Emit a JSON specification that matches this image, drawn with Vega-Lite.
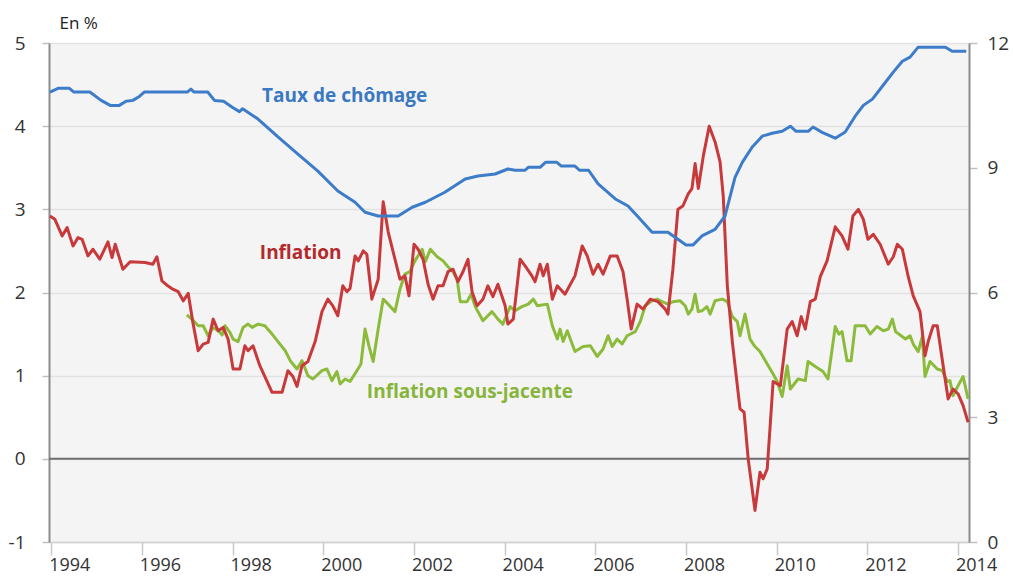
{
  "$schema": "https://vega.github.io/schema/vega-lite/v6.json",
  "width": 920,
  "height": 499,
  "autosize": {"type": "none"},
  "padding": {"left": 49, "top": 43, "right": 44, "bottom": 36},
  "background": "#ffffff",
  "config": {
    "view": {"fill": "#f4f4f4", "stroke": null},
    "font": "Open Sans",
    "axis": {"labelFont": "Open Sans", "labelFontSize": 19, "labelColor": "#333333", "titleFont": "Open Sans", "labelOverlap": false, "labelFlush": false}
  },
  "datasets": {
    "chomage": [
      {"annee": 1993.97, "taux": 10.82}, {"annee": 1994.15, "taux": 10.91}, {"annee": 1994.40, "taux": 10.91},
      {"annee": 1994.50, "taux": 10.82}, {"annee": 1994.85, "taux": 10.82}, {"annee": 1995.10, "taux": 10.62},
      {"annee": 1995.30, "taux": 10.50}, {"annee": 1995.50, "taux": 10.50}, {"annee": 1995.65, "taux": 10.60},
      {"annee": 1995.80, "taux": 10.62}, {"annee": 1995.95, "taux": 10.72}, {"annee": 1996.05, "taux": 10.82},
      {"annee": 1996.50, "taux": 10.82}, {"annee": 1997.00, "taux": 10.82}, {"annee": 1997.08, "taux": 10.89},
      {"annee": 1997.15, "taux": 10.82}, {"annee": 1997.45, "taux": 10.82}, {"annee": 1997.60, "taux": 10.62},
      {"annee": 1997.80, "taux": 10.60}, {"annee": 1998.00, "taux": 10.45}, {"annee": 1998.15, "taux": 10.35},
      {"annee": 1998.22, "taux": 10.42}, {"annee": 1998.56, "taux": 10.17}, {"annee": 1999.00, "taux": 9.74},
      {"annee": 1999.44, "taux": 9.33}, {"annee": 1999.88, "taux": 8.92}, {"annee": 2000.32, "taux": 8.44},
      {"annee": 2000.70, "taux": 8.17}, {"annee": 2000.92, "taux": 7.93}, {"annee": 2001.21, "taux": 7.84},
      {"annee": 2001.65, "taux": 7.84}, {"annee": 2001.96, "taux": 8.05}, {"annee": 2002.25, "taux": 8.17},
      {"annee": 2002.68, "taux": 8.41}, {"annee": 2003.13, "taux": 8.73}, {"annee": 2003.41, "taux": 8.80},
      {"annee": 2003.79, "taux": 8.85}, {"annee": 2004.07, "taux": 8.97}, {"annee": 2004.23, "taux": 8.94},
      {"annee": 2004.45, "taux": 8.94}, {"annee": 2004.52, "taux": 9.01}, {"annee": 2004.78, "taux": 9.01},
      {"annee": 2004.90, "taux": 9.13}, {"annee": 2005.15, "taux": 9.13}, {"annee": 2005.25, "taux": 9.04},
      {"annee": 2005.55, "taux": 9.04}, {"annee": 2005.65, "taux": 8.94}, {"annee": 2005.85, "taux": 8.94},
      {"annee": 2006.06, "taux": 8.61}, {"annee": 2006.44, "taux": 8.25}, {"annee": 2006.72, "taux": 8.08},
      {"annee": 2006.94, "taux": 7.82}, {"annee": 2007.25, "taux": 7.45}, {"annee": 2007.60, "taux": 7.45},
      {"annee": 2007.82, "taux": 7.28}, {"annee": 2008.00, "taux": 7.14}, {"annee": 2008.15, "taux": 7.14},
      {"annee": 2008.35, "taux": 7.36}, {"annee": 2008.64, "taux": 7.52}, {"annee": 2008.86, "taux": 7.84},
      {"annee": 2009.08, "taux": 8.77}, {"annee": 2009.24, "taux": 9.13}, {"annee": 2009.46, "taux": 9.50},
      {"annee": 2009.68, "taux": 9.76}, {"annee": 2009.90, "taux": 9.83}, {"annee": 2010.12, "taux": 9.88},
      {"annee": 2010.30, "taux": 10.00}, {"annee": 2010.42, "taux": 9.88}, {"annee": 2010.70, "taux": 9.88},
      {"annee": 2010.80, "taux": 9.98}, {"annee": 2011.00, "taux": 9.85}, {"annee": 2011.29, "taux": 9.71},
      {"annee": 2011.51, "taux": 9.86}, {"annee": 2011.73, "taux": 10.24}, {"annee": 2011.91, "taux": 10.50},
      {"annee": 2012.11, "taux": 10.65}, {"annee": 2012.33, "taux": 10.96}, {"annee": 2012.57, "taux": 11.30},
      {"annee": 2012.77, "taux": 11.56}, {"annee": 2012.94, "taux": 11.66}, {"annee": 2013.12, "taux": 11.90},
      {"annee": 2013.72, "taux": 11.90}, {"annee": 2013.87, "taux": 11.80}, {"annee": 2014.18, "taux": 11.80}
    ],
    "inflation": [
      {"annee": 1993.97, "valeur": 2.92}, {"annee": 1994.08, "valeur": 2.88}, {"annee": 1994.24, "valeur": 2.68},
      {"annee": 1994.35, "valeur": 2.78}, {"annee": 1994.48, "valeur": 2.56}, {"annee": 1994.59, "valeur": 2.66},
      {"annee": 1994.68, "valeur": 2.64}, {"annee": 1994.81, "valeur": 2.44}, {"annee": 1994.92, "valeur": 2.52},
      {"annee": 1995.07, "valeur": 2.40}, {"annee": 1995.25, "valeur": 2.61}, {"annee": 1995.34, "valeur": 2.42},
      {"annee": 1995.41, "valeur": 2.58}, {"annee": 1995.58, "valeur": 2.28}, {"annee": 1995.74, "valeur": 2.37},
      {"annee": 1996.07, "valeur": 2.36}, {"annee": 1996.24, "valeur": 2.34}, {"annee": 1996.33, "valeur": 2.43},
      {"annee": 1996.44, "valeur": 2.14}, {"annee": 1996.57, "valeur": 2.08}, {"annee": 1996.68, "valeur": 2.04},
      {"annee": 1996.80, "valeur": 2.01}, {"annee": 1996.91, "valeur": 1.90}, {"annee": 1997.02, "valeur": 1.99},
      {"annee": 1997.12, "valeur": 1.65}, {"annee": 1997.24, "valeur": 1.30}, {"annee": 1997.35, "valeur": 1.38},
      {"annee": 1997.46, "valeur": 1.40}, {"annee": 1997.57, "valeur": 1.68}, {"annee": 1997.68, "valeur": 1.54},
      {"annee": 1997.79, "valeur": 1.58}, {"annee": 1997.90, "valeur": 1.44}, {"annee": 1998.01, "valeur": 1.08},
      {"annee": 1998.16, "valeur": 1.08}, {"annee": 1998.27, "valeur": 1.36}, {"annee": 1998.34, "valeur": 1.30},
      {"annee": 1998.45, "valeur": 1.36}, {"annee": 1998.60, "valeur": 1.12}, {"annee": 1998.87, "valeur": 0.80},
      {"annee": 1999.09, "valeur": 0.80}, {"annee": 1999.22, "valeur": 1.06}, {"annee": 1999.33, "valeur": 0.99},
      {"annee": 1999.42, "valeur": 0.87}, {"annee": 1999.53, "valeur": 1.12}, {"annee": 1999.66, "valeur": 1.17},
      {"annee": 1999.82, "valeur": 1.41}, {"annee": 1999.97, "valeur": 1.77}, {"annee": 2000.10, "valeur": 1.92},
      {"annee": 2000.21, "valeur": 1.84}, {"annee": 2000.32, "valeur": 1.72}, {"annee": 2000.43, "valeur": 2.08},
      {"annee": 2000.52, "valeur": 2.01}, {"annee": 2000.59, "valeur": 2.05}, {"annee": 2000.70, "valeur": 2.44},
      {"annee": 2000.77, "valeur": 2.38}, {"annee": 2000.88, "valeur": 2.50}, {"annee": 2000.96, "valeur": 2.46},
      {"annee": 2001.07, "valeur": 1.92}, {"annee": 2001.21, "valeur": 2.16}, {"annee": 2001.32, "valeur": 3.09},
      {"annee": 2001.43, "valeur": 2.73}, {"annee": 2001.58, "valeur": 2.40}, {"annee": 2001.69, "valeur": 2.16},
      {"annee": 2001.80, "valeur": 2.20}, {"annee": 2001.89, "valeur": 1.96}, {"annee": 2002.00, "valeur": 2.58},
      {"annee": 2002.09, "valeur": 2.52}, {"annee": 2002.20, "valeur": 2.40}, {"annee": 2002.31, "valeur": 2.10},
      {"annee": 2002.42, "valeur": 1.92}, {"annee": 2002.53, "valeur": 2.08}, {"annee": 2002.64, "valeur": 2.08},
      {"annee": 2002.75, "valeur": 2.25}, {"annee": 2002.86, "valeur": 2.28}, {"annee": 2002.97, "valeur": 2.13},
      {"annee": 2003.08, "valeur": 2.25}, {"annee": 2003.19, "valeur": 2.40}, {"annee": 2003.28, "valeur": 2.01},
      {"annee": 2003.39, "valeur": 1.84}, {"annee": 2003.52, "valeur": 1.92}, {"annee": 2003.63, "valeur": 2.08},
      {"annee": 2003.74, "valeur": 1.95}, {"annee": 2003.85, "valeur": 2.10}, {"annee": 2004.01, "valeur": 1.84},
      {"annee": 2004.07, "valeur": 1.62}, {"annee": 2004.19, "valeur": 1.68}, {"annee": 2004.34, "valeur": 2.40},
      {"annee": 2004.45, "valeur": 2.32}, {"annee": 2004.60, "valeur": 2.20}, {"annee": 2004.67, "valeur": 2.13},
      {"annee": 2004.78, "valeur": 2.34}, {"annee": 2004.85, "valeur": 2.20}, {"annee": 2004.94, "valeur": 2.34},
      {"annee": 2005.05, "valeur": 1.92}, {"annee": 2005.16, "valeur": 2.08}, {"annee": 2005.33, "valeur": 1.98},
      {"annee": 2005.55, "valeur": 2.20}, {"annee": 2005.71, "valeur": 2.56}, {"annee": 2005.82, "valeur": 2.44},
      {"annee": 2005.95, "valeur": 2.22}, {"annee": 2006.06, "valeur": 2.34}, {"annee": 2006.17, "valeur": 2.22},
      {"annee": 2006.33, "valeur": 2.44}, {"annee": 2006.48, "valeur": 2.44}, {"annee": 2006.61, "valeur": 2.25},
      {"annee": 2006.70, "valeur": 1.92}, {"annee": 2006.79, "valeur": 1.56}, {"annee": 2006.92, "valeur": 1.86},
      {"annee": 2007.05, "valeur": 1.80}, {"annee": 2007.21, "valeur": 1.92}, {"annee": 2007.38, "valeur": 1.89},
      {"annee": 2007.54, "valeur": 1.80}, {"annee": 2007.60, "valeur": 1.74}, {"annee": 2007.71, "valeur": 2.28},
      {"annee": 2007.82, "valeur": 3.00}, {"annee": 2007.93, "valeur": 3.04}, {"annee": 2008.05, "valeur": 3.19},
      {"annee": 2008.13, "valeur": 3.25}, {"annee": 2008.20, "valeur": 3.55}, {"annee": 2008.27, "valeur": 3.25},
      {"annee": 2008.38, "valeur": 3.64}, {"annee": 2008.51, "valeur": 4.00}, {"annee": 2008.64, "valeur": 3.81},
      {"annee": 2008.75, "valeur": 3.57}, {"annee": 2008.82, "valeur": 3.16}, {"annee": 2008.91, "valeur": 2.08},
      {"annee": 2009.02, "valeur": 1.41}, {"annee": 2009.08, "valeur": 1.12}, {"annee": 2009.19, "valeur": 0.60},
      {"annee": 2009.28, "valeur": 0.56}, {"annee": 2009.37, "valeur": 0.00}, {"annee": 2009.52, "valeur": -0.62},
      {"annee": 2009.63, "valeur": -0.16}, {"annee": 2009.70, "valeur": -0.24}, {"annee": 2009.79, "valeur": -0.12},
      {"annee": 2009.86, "valeur": 0.44}, {"annee": 2009.92, "valeur": 0.93}, {"annee": 2010.08, "valeur": 0.88},
      {"annee": 2010.23, "valeur": 1.56}, {"annee": 2010.34, "valeur": 1.65}, {"annee": 2010.45, "valeur": 1.48},
      {"annee": 2010.54, "valeur": 1.71}, {"annee": 2010.63, "valeur": 1.56}, {"annee": 2010.74, "valeur": 1.89},
      {"annee": 2010.85, "valeur": 1.92}, {"annee": 2010.96, "valeur": 2.19}, {"annee": 2011.11, "valeur": 2.38},
      {"annee": 2011.29, "valeur": 2.79}, {"annee": 2011.44, "valeur": 2.68}, {"annee": 2011.57, "valeur": 2.52},
      {"annee": 2011.68, "valeur": 2.92}, {"annee": 2011.80, "valeur": 3.00}, {"annee": 2011.91, "valeur": 2.88},
      {"annee": 2012.01, "valeur": 2.64}, {"annee": 2012.13, "valeur": 2.70}, {"annee": 2012.28, "valeur": 2.58},
      {"annee": 2012.46, "valeur": 2.34}, {"annee": 2012.57, "valeur": 2.43}, {"annee": 2012.66, "valeur": 2.58},
      {"annee": 2012.77, "valeur": 2.52}, {"annee": 2012.90, "valeur": 2.19}, {"annee": 2013.01, "valeur": 1.96},
      {"annee": 2013.16, "valeur": 1.77}, {"annee": 2013.27, "valeur": 1.24}, {"annee": 2013.34, "valeur": 1.41},
      {"annee": 2013.45, "valeur": 1.60}, {"annee": 2013.54, "valeur": 1.60}, {"annee": 2013.67, "valeur": 1.12},
      {"annee": 2013.78, "valeur": 0.72}, {"annee": 2013.89, "valeur": 0.84}, {"annee": 2014.00, "valeur": 0.78},
      {"annee": 2014.11, "valeur": 0.64}, {"annee": 2014.22, "valeur": 0.44}
    ],
    "sousjacente": [
      {"annee": 1996.99, "valeur": 1.73}, {"annee": 1997.10, "valeur": 1.68}, {"annee": 1997.24, "valeur": 1.60},
      {"annee": 1997.35, "valeur": 1.60}, {"annee": 1997.46, "valeur": 1.48}, {"annee": 1997.57, "valeur": 1.58},
      {"annee": 1997.68, "valeur": 1.54}, {"annee": 1997.77, "valeur": 1.49}, {"annee": 1997.83, "valeur": 1.60},
      {"annee": 1997.94, "valeur": 1.52}, {"annee": 1998.01, "valeur": 1.44}, {"annee": 1998.12, "valeur": 1.41},
      {"annee": 1998.23, "valeur": 1.58}, {"annee": 1998.34, "valeur": 1.62}, {"annee": 1998.43, "valeur": 1.58},
      {"annee": 1998.56, "valeur": 1.62}, {"annee": 1998.71, "valeur": 1.60}, {"annee": 1998.87, "valeur": 1.50},
      {"annee": 1999.00, "valeur": 1.41}, {"annee": 1999.16, "valeur": 1.30}, {"annee": 1999.27, "valeur": 1.18},
      {"annee": 1999.42, "valeur": 1.08}, {"annee": 1999.53, "valeur": 1.18}, {"annee": 1999.66, "valeur": 1.00},
      {"annee": 1999.77, "valeur": 0.96}, {"annee": 1999.97, "valeur": 1.06}, {"annee": 2000.08, "valeur": 1.08},
      {"annee": 2000.19, "valeur": 0.94}, {"annee": 2000.30, "valeur": 1.05}, {"annee": 2000.37, "valeur": 0.90},
      {"annee": 2000.48, "valeur": 0.96}, {"annee": 2000.59, "valeur": 0.93}, {"annee": 2000.74, "valeur": 1.06},
      {"annee": 2000.83, "valeur": 1.14}, {"annee": 2000.92, "valeur": 1.56}, {"annee": 2001.01, "valeur": 1.35},
      {"annee": 2001.10, "valeur": 1.17}, {"annee": 2001.21, "valeur": 1.56}, {"annee": 2001.32, "valeur": 1.92},
      {"annee": 2001.43, "valeur": 1.86}, {"annee": 2001.58, "valeur": 1.77}, {"annee": 2001.69, "valeur": 2.04},
      {"annee": 2001.80, "valeur": 2.22}, {"annee": 2001.91, "valeur": 2.25}, {"annee": 2002.02, "valeur": 2.38},
      {"annee": 2002.18, "valeur": 2.52}, {"annee": 2002.25, "valeur": 2.37}, {"annee": 2002.36, "valeur": 2.52},
      {"annee": 2002.51, "valeur": 2.43}, {"annee": 2002.64, "valeur": 2.38}, {"annee": 2002.75, "valeur": 2.31},
      {"annee": 2002.86, "valeur": 2.25}, {"annee": 2002.95, "valeur": 2.16}, {"annee": 2003.02, "valeur": 1.89},
      {"annee": 2003.17, "valeur": 1.89}, {"annee": 2003.26, "valeur": 1.98}, {"annee": 2003.35, "valeur": 1.83},
      {"annee": 2003.52, "valeur": 1.66}, {"annee": 2003.72, "valeur": 1.77}, {"annee": 2003.85, "valeur": 1.68},
      {"annee": 2003.96, "valeur": 1.62}, {"annee": 2004.12, "valeur": 1.83}, {"annee": 2004.23, "valeur": 1.78},
      {"annee": 2004.38, "valeur": 1.83}, {"annee": 2004.52, "valeur": 1.86}, {"annee": 2004.63, "valeur": 1.92},
      {"annee": 2004.72, "valeur": 1.84}, {"annee": 2004.94, "valeur": 1.86}, {"annee": 2005.05, "valeur": 1.60},
      {"annee": 2005.16, "valeur": 1.44}, {"annee": 2005.22, "valeur": 1.56}, {"annee": 2005.29, "valeur": 1.41},
      {"annee": 2005.38, "valeur": 1.54}, {"annee": 2005.55, "valeur": 1.29}, {"annee": 2005.73, "valeur": 1.35},
      {"annee": 2005.89, "valeur": 1.36}, {"annee": 2006.04, "valeur": 1.23}, {"annee": 2006.17, "valeur": 1.32},
      {"annee": 2006.28, "valeur": 1.48}, {"annee": 2006.37, "valeur": 1.35}, {"annee": 2006.48, "valeur": 1.44},
      {"annee": 2006.59, "valeur": 1.38}, {"annee": 2006.70, "valeur": 1.48}, {"annee": 2006.88, "valeur": 1.53},
      {"annee": 2006.99, "valeur": 1.65}, {"annee": 2007.10, "valeur": 1.84}, {"annee": 2007.25, "valeur": 1.90},
      {"annee": 2007.36, "valeur": 1.92}, {"annee": 2007.47, "valeur": 1.89}, {"annee": 2007.60, "valeur": 1.86},
      {"annee": 2007.71, "valeur": 1.89}, {"annee": 2007.87, "valeur": 1.90}, {"annee": 2007.98, "valeur": 1.84},
      {"annee": 2008.05, "valeur": 1.74}, {"annee": 2008.13, "valeur": 1.80}, {"annee": 2008.20, "valeur": 1.98},
      {"annee": 2008.27, "valeur": 1.77}, {"annee": 2008.35, "valeur": 1.78}, {"annee": 2008.46, "valeur": 1.83},
      {"annee": 2008.53, "valeur": 1.74}, {"annee": 2008.64, "valeur": 1.90}, {"annee": 2008.80, "valeur": 1.92},
      {"annee": 2008.91, "valeur": 1.89}, {"annee": 2009.02, "valeur": 1.71}, {"annee": 2009.13, "valeur": 1.65},
      {"annee": 2009.19, "valeur": 1.48}, {"annee": 2009.30, "valeur": 1.74}, {"annee": 2009.41, "valeur": 1.44},
      {"annee": 2009.52, "valeur": 1.35}, {"annee": 2009.63, "valeur": 1.29}, {"annee": 2009.79, "valeur": 1.14},
      {"annee": 2009.92, "valeur": 1.02}, {"annee": 2010.01, "valeur": 0.93}, {"annee": 2010.12, "valeur": 0.75},
      {"annee": 2010.23, "valeur": 1.12}, {"annee": 2010.30, "valeur": 0.84}, {"annee": 2010.47, "valeur": 0.96},
      {"annee": 2010.63, "valeur": 0.94}, {"annee": 2010.69, "valeur": 1.17}, {"annee": 2010.85, "valeur": 1.11},
      {"annee": 2011.02, "valeur": 1.05}, {"annee": 2011.13, "valeur": 0.96}, {"annee": 2011.29, "valeur": 1.59},
      {"annee": 2011.37, "valeur": 1.50}, {"annee": 2011.44, "valeur": 1.53}, {"annee": 2011.55, "valeur": 1.18},
      {"annee": 2011.64, "valeur": 1.18}, {"annee": 2011.73, "valeur": 1.60}, {"annee": 2011.95, "valeur": 1.60},
      {"annee": 2012.06, "valeur": 1.50}, {"annee": 2012.21, "valeur": 1.59}, {"annee": 2012.35, "valeur": 1.54},
      {"annee": 2012.46, "valeur": 1.56}, {"annee": 2012.55, "valeur": 1.68}, {"annee": 2012.62, "valeur": 1.53},
      {"annee": 2012.84, "valeur": 1.44}, {"annee": 2012.94, "valeur": 1.48}, {"annee": 2013.01, "valeur": 1.38},
      {"annee": 2013.12, "valeur": 1.29}, {"annee": 2013.21, "valeur": 1.47}, {"annee": 2013.27, "valeur": 0.99},
      {"annee": 2013.38, "valeur": 1.17}, {"annee": 2013.54, "valeur": 1.08}, {"annee": 2013.65, "valeur": 1.06},
      {"annee": 2013.76, "valeur": 0.93}, {"annee": 2013.82, "valeur": 0.94}, {"annee": 2013.89, "valeur": 0.76},
      {"annee": 2014.00, "valeur": 0.88}, {"annee": 2014.11, "valeur": 0.99}, {"annee": 2014.22, "valeur": 0.72}
    ],
    "etiquettes": [
      {"annee": 1998.65, "valeur": 4.36, "label": "Taux de chômage", "serie": "chomage"},
      {"annee": 1998.60, "valeur": 2.48, "label": "Inflation", "serie": "inflation"},
      {"annee": 2000.96, "valeur": 0.80, "label": "Inflation sous-jacente", "serie": "sousjacente"}
    ]
  },
  "layer": [
    {
      "layer": [
        {
          "data": {"values": [{"valeur": 0}]},
          "mark": {"type": "rule", "color": "#6e6e6e", "strokeWidth": 2},
          "encoding": {
            "y": {
              "field": "valeur", "type": "quantitative",
              "scale": {"domain": [-1, 5], "nice": false, "zero": false},
              "axis": {
                "values": [-1, 0, 1, 2, 3, 4, 5],
                "labelExpr": "'' + datum.value",
                "title": "En %", "titleAngle": 0, "titleX": 10, "titleY": -20,
                "titleAlign": "left", "titleBaseline": "middle", "titleFontSize": 17,
                "titleFontWeight": "normal", "titleColor": "#222222",
                "grid": true, "gridColor": "#e2e2e2", "gridWidth": 1.5,
                "domainColor": "#8c8c8c", "domainWidth": 2,
                "tickColor": "#c0c0c0", "tickSize": 7, "tickWidth": 1.5, "labelPadding": 17
              }
            }
          }
        },
        {
          "data": {"name": "sousjacente"},
          "mark": {"type": "line", "color": "#8cbb3c", "strokeWidth": 3, "strokeJoin": "round"},
          "encoding": {
            "x": {
              "field": "annee", "type": "quantitative",
              "scale": {"domain": [1993.95, 2014.24], "nice": false, "zero": false},
              "axis": {
                "values": [1994, 1996, 1998, 2000, 2002, 2004, 2006, 2008, 2010, 2012, 2014],
                "format": "d", "title": null, "grid": false,
                "tickSize": 13, "tickColor": "#c8c8c8", "tickWidth": 1.5,
                "domainColor": "#d0d0d0", "domainWidth": 1.5,
                "labelOffset": 18, "labelPadding": 1, "labelFontSize": 18
              }
            },
            "y": {"field": "valeur", "type": "quantitative"}
          }
        },
        {
          "data": {"name": "inflation"},
          "mark": {"type": "line", "color": "#c8393b", "strokeWidth": 3, "strokeJoin": "round"},
          "encoding": {
            "x": {"field": "annee", "type": "quantitative"},
            "y": {"field": "valeur", "type": "quantitative"}
          }
        },
        {
          "data": {"name": "etiquettes"},
          "mark": {"type": "text", "align": "left", "baseline": "middle", "fontSize": 19, "fontWeight": "bold", "font": "Open Sans"},
          "encoding": {
            "x": {"field": "annee", "type": "quantitative"},
            "y": {"field": "valeur", "type": "quantitative"},
            "text": {"field": "label", "type": "nominal"},
            "color": {
              "field": "serie", "type": "nominal", "legend": null,
              "scale": {"domain": ["chomage", "inflation", "sousjacente"], "range": ["#3a78c2", "#b5282b", "#86b53a"]}
            }
          }
        }
      ]
    },
    {
      "data": {"name": "chomage"},
      "mark": {"type": "line", "color": "#3d7cc9", "strokeWidth": 3, "strokeJoin": "round"},
      "encoding": {
        "x": {"field": "annee", "type": "quantitative"},
        "y": {
          "field": "taux", "type": "quantitative",
          "scale": {"domain": [0, 12], "nice": false, "zero": false},
          "axis": {
            "orient": "right", "values": [0, 3, 6, 9, 12], "title": null, "grid": false,
            "domainColor": "#8c8c8c", "domainWidth": 2,
            "tickColor": "#c0c0c0", "tickSize": 8, "tickWidth": 1.5, "labelPadding": 10
          }
        }
      }
    }
  ],
  "resolve": {"scale": {"y": "independent"}}
}
